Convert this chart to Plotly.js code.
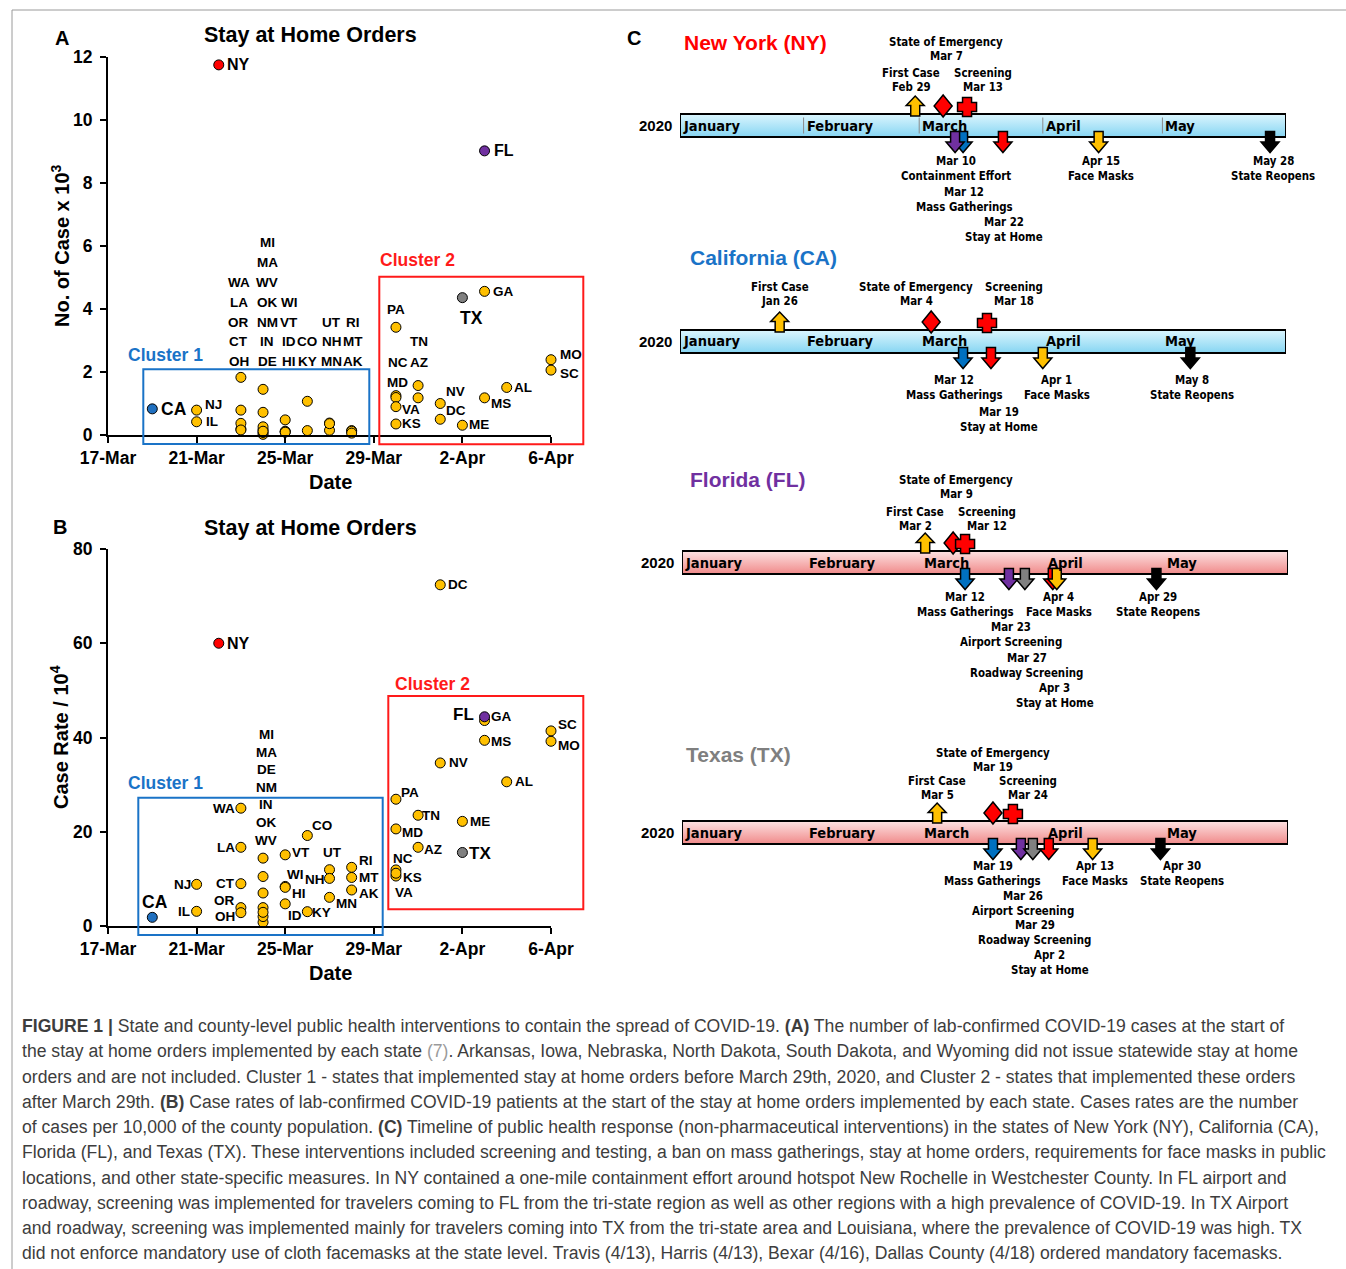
<!DOCTYPE html>
<html><head><meta charset="utf-8">
<script src="https://cdn.plot.ly/plotly-3.0.1.min.js"></script>
<style>html,body{margin:0;padding:0;background:#fff;}#chart{width:1346px;height:1269px;}</style>
</head><body><div id="chart"></div>
<script>
const W = 1346, H = 1269;
const F = 'Liberation Sans, Arial, sans-serif';
const FN = 'Liberation Sans Narrow, DejaVu Sans Condensed, Arial Narrow, sans-serif';

// ---------- Panels A and B: data ----------
const states = ['CA','NJ','IL','NY','WA','LA','OR','CT','OH','MI','MA','WV','OK','NM','IN','DE','WI','VT','ID','HI','CO','KY','UT','NH','MN','RI','MT','AK','PA','NC','MD','VA','KS','TN','AZ','NV','DC','TX','ME','GA','MS','FL','AL','MO','SC'];
const orderDates = ['2020-03-19','2020-03-21','2020-03-21','2020-03-22','2020-03-23','2020-03-23','2020-03-23','2020-03-23','2020-03-23','2020-03-24','2020-03-24','2020-03-24','2020-03-24','2020-03-24','2020-03-24','2020-03-24','2020-03-25','2020-03-25','2020-03-25','2020-03-25','2020-03-26','2020-03-26','2020-03-27','2020-03-27','2020-03-27','2020-03-28','2020-03-28','2020-03-28','2020-03-30','2020-03-30','2020-03-30','2020-03-30','2020-03-30','2020-03-31','2020-03-31','2020-04-01','2020-04-01','2020-04-02','2020-04-02','2020-04-03','2020-04-03','2020-04-03','2020-04-04','2020-04-06','2020-04-06'];
const casesK = [0.83,0.79,0.42,11.75,1.83,0.79,0.19,0.37,0.16,1.45,0.72,0.02,0.17,0.08,0.26,0.12,0.48,0.12,0.10,0.09,1.07,0.14,0.38,0.15,0.36,0.14,0.12,0.06,3.42,1.25,1.19,0.90,0.35,1.57,1.18,1.00,0.50,4.36,0.31,4.56,1.18,9.02,1.51,2.39,2.06];
const caseRates = [1.84,8.84,3.11,60.0,25.0,16.7,3.9,8.98,2.83,14.4,10.5,0.78,2.0,3.9,2.9,7.0,8.4,15.1,4.7,8.2,19.2,3.04,11.95,10.1,6.08,12.45,10.3,7.64,26.9,11.9,20.6,10.6,11.2,23.5,16.7,34.6,72.4,15.6,22.2,43.6,39.4,44.4,30.6,39.2,41.4];
const dateTicks = ['2020-03-17','2020-03-21','2020-03-25','2020-03-29','2020-04-02','2020-04-06'];
const highlightColor = {NY:'#ff0000', CA:'#1f6fbf', FL:'#7030a0', TX:'#808080'};
const baseColor = '#ffc000';

// stacked label columns (top to bottom)
const stackA = {'2020-03-23':['WA','LA','OR','CT','OH'], '2020-03-24':['MI','MA','WV','OK','NM','IN','DE'], '2020-03-25':['WI','VT','ID','HI'], '2020-03-26':['CO','KY'], '2020-03-27':['UT','NH','MN'], '2020-03-28':['RI','MT','AK']};
const stackB = {'2020-03-24':['MI','MA','DE','NM','IN','OK','WV']};

// label placement styles: [mode, dx, dy, size]
const labelPosA = {NY:['R',8,0,16],FL:['R',9,0,16],CA:['R',9,0,17.5],NJ:['R',8,-6],IL:['R',9,0],PA:['C',0,-18],NC:['C',2,-33.6],MD:['C',2,-15.5],VA:['R',6,3.3],KS:['R',6,0],TN:['C',0.5,-43.8],AZ:['C',1,-35.8],NV:['R',6,-12],DC:['R',6,-8.6],ME:['R',7,-1],MS:['R',6,5.6],AL:['R',7,0],GA:['R',8,0],TX:['C',9,20.6,17.5],MO:['R',9,-5],SC:['R',9,3]};
const labelPosB = {NY:['R',8,0,16],DC:['R',8,0],CA:['C',3,-15.6,17.5],NJ:['L',-6,0],IL:['L',-6.5,0],WA:['L',-6,0],LA:['L',-6,0],CT:['L',-6,0],OR:['L',-6,-6.7],OH:['L',-6,4],VT:['R',6.7,-2],WI:['C',10,-12],HI:['R',6.7,6],ID:['C',10,11.3],CO:['R',5,-10],KY:['R',5,1],UT:['C',2.7,-17],NH:['L',-5,1],MN:['R',6,6],RI:['R',7.3,-7],MT:['R',7.3,0],AK:['R',7.3,3.3],FL:['L',-11,-2.7,17],GA:['R',6.7,-3.6],MS:['R',6.7,1.4],SC:['R',7,-6],MO:['R',7,4.7],NV:['R',8.6,0],AL:['R',8.7,0],PA:['R',5,-7],TN:['R',4.3,0],MD:['R',6,3.3],ME:['R',7.7,0],AZ:['R',6,2],TX:['R',6.7,1,17],NC:['C',6.6,-11.7],KS:['R',6.6,4.3],VA:['C',7.6,16.7]};
const stackDxA = {'2020-03-23':-2,'2020-03-24':4,'2020-03-25':4,'2020-03-26':0,'2020-03-27':2,'2020-03-28':1};
const stackDxB = {'2020-03-24':3};

// cluster boxes (page pixels)
const clusterBoxes = [
  {x0:143.3, x1:369.3, y0:369.3, y1:444.0, c:'#1a73c7'},
  {x0:379.3, x1:583.3, y0:276.7, y1:444.3, c:'#ff1a1a'},
  {x0:138.3, x1:382.7, y0:797.7, y1:935.0, c:'#1a73c7'},
  {x0:388.3, x1:583.3, y0:696.0, y1:909.3, c:'#ff1a1a'}
];

// ---------- Panel C: timelines ----------
const timelineRange = ['2020-01-01','2020-06-01'];
const months = [['2020-01-01','January'],['2020-02-01','February'],['2020-03-01','March'],['2020-04-01','April'],['2020-05-01','May']];
const nyEvents = [['2020-02-29','First Case','Feb 29'],['2020-03-07','State of Emergency','Mar 7'],['2020-03-13','Screening','Mar 13'],['2020-03-12','Mass Gatherings','Mar 12'],['2020-03-10','Containment Effort','Mar 10'],['2020-03-22','Stay at Home','Mar 22'],['2020-04-15','Face Masks','Apr 15'],['2020-05-28','State Reopens','May 28']];
const caEvents = [['2020-01-26','First Case','Jan 26'],['2020-03-04','State of Emergency','Mar 4'],['2020-03-18','Screening','Mar 18'],['2020-03-12','Mass Gatherings','Mar 12'],['2020-03-19','Stay at Home','Mar 19'],['2020-04-01','Face Masks','Apr 1'],['2020-05-08','State Reopens','May 8']];
const flEvents = [['2020-03-02','First Case','Mar 2'],['2020-03-09','State of Emergency','Mar 9'],['2020-03-12','Screening','Mar 12'],['2020-03-12','Mass Gatherings','Mar 12'],['2020-03-23','Airport Screening','Mar 23'],['2020-03-27','Roadway Screening','Mar 27'],['2020-04-03','Stay at Home','Apr 3'],['2020-04-04','Face Masks','Apr 4'],['2020-04-29','State Reopens','Apr 29']];
const txEvents = [['2020-03-05','First Case','Mar 5'],['2020-03-19','State of Emergency','Mar 19'],['2020-03-24','Screening','Mar 24'],['2020-03-19','Mass Gatherings','Mar 19'],['2020-03-26','Airport Screening','Mar 26'],['2020-03-29','Roadway Screening','Mar 29'],['2020-04-02','Stay at Home','Apr 2'],['2020-04-13','Face Masks','Apr 13'],['2020-04-30','State Reopens','Apr 30']];

const eventStyle = {
 'First Case':{kind:'up',color:'#ffc000'}, 'State of Emergency':{kind:'diamond',color:'#ff0000'}, 'Screening':{kind:'cross',color:'#ff0000'},
 'Mass Gatherings':{kind:'down',color:'#0070c0'}, 'Containment Effort':{kind:'down',color:'#7030a0'}, 'Airport Screening':{kind:'down',color:'#7030a0'},
 'Roadway Screening':{kind:'down',color:'#808080'}, 'Stay at Home':{kind:'down',color:'#ff0000'}, 'Face Masks':{kind:'down',color:'#ffc000'}, 'State Reopens':{kind:'down',color:'#000000'}
};
const paths = {
 up:'M-4.5,9.5 L4.5,9.5 L4.5,20 L9,20 L0,29.5 L-9,20 L-4.5,20 Z',
 down:'M-4.5,-6 L4.5,-6 L4.5,-16.5 L9,-16.5 L0,-27 L-9,-16.5 L-4.5,-16.5 Z',
 diamond:'M0,8.5 L9,19.5 L0,30.5 L-9,19.5 Z',
 cross:'M-4.5,9 L4.5,9 L4.5,14 L9.5,14 L9.5,23 L4.5,23 L4.5,28 L-4.5,28 L-4.5,23 L-9.5,23 L-9.5,14 L-4.5,14 Z'
};
// label placement: event -> [dx, row]
const evLabelPos = {
 NY:{'First Case':[-4,1],'State of Emergency':[3,2],'Screening':[16,1],'Mass Gatherings':[1,2],'Containment Effort':[1,1],'Stay at Home':[1,3],'Face Masks':[2,1],'State Reopens':[3,1]},
 CA:{'First Case':[0,1],'State of Emergency':[-15,1],'Screening':[27,1],'Mass Gatherings':[-9,1],'Stay at Home':[8,2],'Face Masks':[14,1],'State Reopens':[2,1]},
 FL:{'First Case':[-10,1],'State of Emergency':[3,2],'Screening':[22,1],'Mass Gatherings':[0,1],'Airport Screening':[2,2],'Roadway Screening':[2,3],'Stay at Home':[2,4],'Face Masks':[2,1],'State Reopens':[2,1]},
 TX:{'First Case':[0,1],'State of Emergency':[0,2],'Screening':[15,1],'Mass Gatherings':[0,1],'Airport Screening':[2,2],'Roadway Screening':[2,3],'Stay at Home':[1,4],'Face Masks':[2,1],'State Reopens':[22,1]}
};
const timelines = [
 {key:'NY', title:'New York (NY)', tcolor:'#ff0000', events:nyEvents, center:125.5, x0:680, x1:1286, blue:true, sep:true, tpos:[684,42], up:[38.5,31], dn:[35.5,30.5]},
 {key:'CA', title:'California (CA)', tcolor:'#1a73c7', events:caEvents, center:341.5, x0:680, x1:1286, blue:true, sep:false, tpos:[690,258], up:[40.5,31], dn:[38.5,32]},
 {key:'FL', title:'Florida (FL)', tcolor:'#7030a0', events:flEvents, center:562.5, x0:682, x1:1288, blue:false, sep:false, tpos:[690,479], up:[36.5,32], dn:[34.5,30.3]},
 {key:'TX', title:'Texas (TX)', tcolor:'#7f7f7f', events:txEvents, center:832.5, x0:682, x1:1288, blue:false, sep:false, tpos:[686,754], up:[37.5,28], dn:[33.5,29.7]}
];

const captionLines = [
 '<b>FIGURE 1 |</b> State and county-level public health interventions to contain the spread of COVID-19. <b>(A)</b> The number of lab-confirmed COVID-19 cases at the start of',
 'the stay at home orders implemented by each state <span style="color:#9a9a9a">(7)</span>. Arkansas, Iowa, Nebraska, North Dakota, South Dakota, and Wyoming did not issue statewide stay at home',
 'orders and are not included. Cluster 1 - states that implemented stay at home orders before March 29th, 2020, and Cluster 2 - states that implemented these orders',
 'after March 29th. <b>(B)</b> Case rates of lab-confirmed COVID-19 patients at the start of the stay at home orders implemented by each state. Cases rates are the number',
 'of cases per 10,000 of the county population. <b>(C)</b> Timeline of public health response (non-pharmaceutical interventions) in the states of New York (NY), California (CA),',
 'Florida (FL), and Texas (TX). These interventions included screening and testing, a ban on mass gatherings, stay at home orders, requirements for face masks in public',
 'locations, and other state-specific measures. In NY contained a one-mile containment effort around hotspot New Rochelle in Westchester County. In FL airport and',
 'roadway, screening was implemented for travelers coming to FL from the tri-state region as well as other regions with a high prevalence of COVID-19. In TX Airport',
 'and roadway, screening was implemented mainly for travelers coming into TX from the tri-state area and Louisiana, where the prevalence of COVID-19 was high. TX',
 'did not enforce mandatory use of cloth facemasks at the state level. Travis (4/13), Harris (4/13), Bexar (4/16), Dallas County (4/18) ordered mandatory facemasks.'
];

// ---------- build ----------
const px = x => x / W, py = y => 1 - y / H;
const traces = [], annotations = [], shapes = [];

function ann(o) { return Object.assign({showarrow:false, borderpad:0, borderwidth:0}, o); }
function txt(x, y, text, size, opts) {
  annotations.push(ann(Object.assign({xref:'paper', yref:'paper', x:px(x), y:py(y), text:text, xanchor:'center', yanchor:'middle', font:{family:F, size:size, color:'#000'}}, opts || {})));
}

function scatterPanel(vals, xa, ya) {
  const norm = states.map((s,i)=>highlightColor[s]?null:i).filter(i=>i!==null);
  const hi = states.map((s,i)=>highlightColor[s]?i:null).filter(i=>i!==null);
  [norm, hi].forEach(idx => traces.push({type:'scatter', mode:'markers', xaxis:xa, yaxis:ya, cliponaxis:false, hoverinfo:'skip',
    x: idx.map(i=>orderDates[i]), y: idx.map(i=>vals[i]),
    marker:{size:10, color: idx.map(i=>highlightColor[states[i]]||baseColor), line:{color:'#000', width:1}}}));
}
scatterPanel(casesK, 'x', 'y');
scatterPanel(caseRates, 'x2', 'y2');

function pointLabels(pos, vals, xa, ya) {
  states.forEach((s,i) => {
    const p = pos[s]; if (!p) return;
    annotations.push(ann({xref:xa, yref:ya, x:orderDates[i], y:vals[i], text:'<b>'+s+'</b>',
      xanchor: p[0]==='R'?'left':(p[0]==='L'?'right':'center'), yanchor:'middle', xshift:p[1], yshift:-p[2],
      font:{family:F, size:p[3]||13.5, color:'#000'}}));
  });
}
pointLabels(labelPosA, casesK, 'x', 'y');
pointLabels(labelPosB, caseRates, 'x2', 'y2');

function stackLabels(stack, dxm, xa, ya, base, step) {
  Object.keys(stack).forEach(d => {
    const list = stack[d];
    list.forEach((s,k) => {
      const fromBottom = list.length - 1 - k;
      annotations.push(ann({xref:xa, yref:ya, x:d, y:0, text:'<b>'+s+'</b>', xanchor:'center', yanchor:'middle',
        xshift:dxm[d]||0, yshift:base + fromBottom*step, font:{family:F, size:13.5, color:'#000'}}));
    });
  });
}
stackLabels(stackA, stackDxA, 'x', 'y', 73.3, 19.8);
stackLabels(stackB, stackDxB, 'x2', 'y2', 86, 17.6);

clusterBoxes.forEach(b => shapes.push({type:'rect', xref:'paper', yref:'paper', x0:px(b.x0), x1:px(b.x1), y0:py(b.y1), y1:py(b.y0), line:{color:b.c, width:2}, fillcolor:'rgba(0,0,0,0)', layer:'above'}));

// titles panels A/B
txt(62, 38, '<b>A</b>', 20); txt(60, 527, '<b>B</b>', 20); txt(634, 38, '<b>C</b>', 20);
txt(310, 35, '<b>Stay at Home Orders</b>', 21.5); txt(310, 528, '<b>Stay at Home Orders</b>', 21.5);
txt(330, 482, '<b>Date</b>', 20); txt(330, 973, '<b>Date</b>', 20);
txt(60, 246, '<b>No. of Case x 10<sup>3</sup></b>', 20, {textangle:-90});
txt(60, 737, '<b>Case Rate / 10<sup>4</sup></b>', 20, {textangle:-90});
txt(128, 355, '<b>Cluster 1</b>', 17.5, {xanchor:'left', font:{family:F, size:17.5, color:'#1a73c7'}});
txt(380, 260, '<b>Cluster 2</b>', 17.5, {xanchor:'left', font:{family:F, size:17.5, color:'#ff1a1a'}});
txt(128, 783, '<b>Cluster 1</b>', 17.5, {xanchor:'left', font:{family:F, size:17.5, color:'#1a73c7'}});
txt(395, 684, '<b>Cluster 2</b>', 17.5, {xanchor:'left', font:{family:F, size:17.5, color:'#ff1a1a'}});

// timelines
const layoutAxes = {};
timelines.forEach((t, j) => {
  const n = j + 3, xa = 'x'+n, ya = 'y'+n;
  layoutAxes['xaxis'+n] = {domain:[px(t.x0), px(t.x1)], anchor:ya, type:'date', range:timelineRange, visible:false, fixedrange:true};
  layoutAxes['yaxis'+n] = {domain:[py(t.center+40), py(t.center-40)], anchor:xa, range:[-40,40], visible:false, fixedrange:true};
  const r0 = timelineRange[0], r1 = timelineRange[1];
  traces.push({type:'scatter', mode:'lines', xaxis:xa, yaxis:ya, hoverinfo:'skip', x:[r0,r1,r1,r0,r0], y:[-11.5,-11.5,11.5,11.5,-11.5],
    fill:'toself', fillgradient:{type:'vertical', colorscale: t.blue ? [[0,'#86d5f2'],[1,'#dcf6fe']] : [[0,'#f08a8a'],[1,'#fde2e2']]},
    line:{color:'#000', width:2}});
  txt(t.tpos[0], t.tpos[1], '<b>'+t.title+'</b>', 21, {xanchor:'left', font:{family:F, size:21, color:t.tcolor}});
  annotations.push(ann({xref:xa, yref:ya, x:r0, y:0, text:'<b>2020</b>', xanchor:'right', yanchor:'middle', xshift:-8, font:{family:F, size:15, color:'#000'}}));
  months.forEach(m => {
    annotations.push(ann({xref:xa, yref:ya, x:m[0], y:0, text:'<b>'+m[1]+'</b>', xanchor:'left', yanchor:'middle', xshift:3, font:{family:FN, size:14.5, color:'#000'}}));
    if (t.sep && m[0] !== r0) shapes.push({type:'line', xref:xa, yref:ya, x0:m[0], x1:m[0], y0:-8, y1:8, line:{color:'#8a8a8a', width:1}});
  });
  t.events.forEach(e => {
    const st = eventStyle[e[1]];
    shapes.push({type:'path', xref:xa, yref:ya, xsizemode:'pixel', ysizemode:'pixel', xanchor:e[0], yanchor:0, path:paths[st.kind],
      fillcolor:st.color, line:{color:'#000', width:1.5}, layer:'above'});
    const lp = evLabelPos[t.key][e[1]];
    const isUp = st.kind !== 'down';
    let first, second, off1, off2;
    if (isUp) { const d = t.up[0] + t.up[1]*(lp[1]-1); first = e[1]; second = e[2]; off1 = -(d+14); off2 = -d; }
    else { const d = t.dn[0] + t.dn[1]*(lp[1]-1); first = e[2]; second = e[1]; off1 = d; off2 = d+15; }
    [[first,off1],[second,off2]].forEach(([s,o]) => annotations.push(ann({xref:xa, yref:ya, x:e[0], y:0, text:'<b>'+s+'</b>', xanchor:'center', yanchor:'middle', xshift:lp[0], yshift:-o, font:{family:FN, size:11.4, color:'#000'}})));
  });
});

// caption
captionLines.forEach((l, i) => txt(22, 1026 + i*25.25, l, 17.6, {xanchor:'left', font:{family:F, size:17.6, color:'#3d3d3d'}}));

// frame
shapes.push({type:'line', xref:'paper', yref:'paper', x0:px(12), x1:1, y0:py(10), y1:py(10), line:{color:'#9a9a9a', width:1}});
shapes.push({type:'line', xref:'paper', yref:'paper', x0:px(12), x1:px(12), y0:py(10), y1:0, line:{color:'#9a9a9a', width:1}});

const tickFont = {family:F, size:17.5, color:'#000', weight:'bold'};
const xBase = {type:'date', range:['2020-03-17','2020-04-06'], tickvals:dateTicks, tickformat:'%-d-%b', ticks:'outside', ticklen:6, tickwidth:2, tickcolor:'#000',
  showline:true, linewidth:2, linecolor:'#000', showgrid:false, zeroline:false, tickfont:tickFont, fixedrange:true, domain:[px(108), px(551)]};
const yBase = {ticks:'outside', ticklen:6, tickwidth:2, tickcolor:'#000', showline:true, linewidth:2, linecolor:'#000', showgrid:false, zeroline:false,
  tickfont:tickFont, fixedrange:true, ticklabelstandoff:4};

const layout = Object.assign({
  width:W, height:H, margin:{l:0,r:0,t:0,b:0}, paper_bgcolor:'#fff', plot_bgcolor:'rgba(0,0,0,0)', showlegend:false,
  xaxis:Object.assign({}, xBase, {anchor:'y'}),
  yaxis:Object.assign({}, yBase, {anchor:'x', domain:[py(435), py(57)], range:[0,12], dtick:2, tick0:0}),
  xaxis2:Object.assign({}, xBase, {anchor:'y2'}),
  yaxis2:Object.assign({}, yBase, {anchor:'x2', domain:[py(926), py(549)], range:[0,80], dtick:20, tick0:0}),
  annotations:annotations, shapes:shapes
}, layoutAxes);

Plotly.newPlot('chart', traces, layout, {staticPlot:true, displayModeBar:false});
</script></body></html>
